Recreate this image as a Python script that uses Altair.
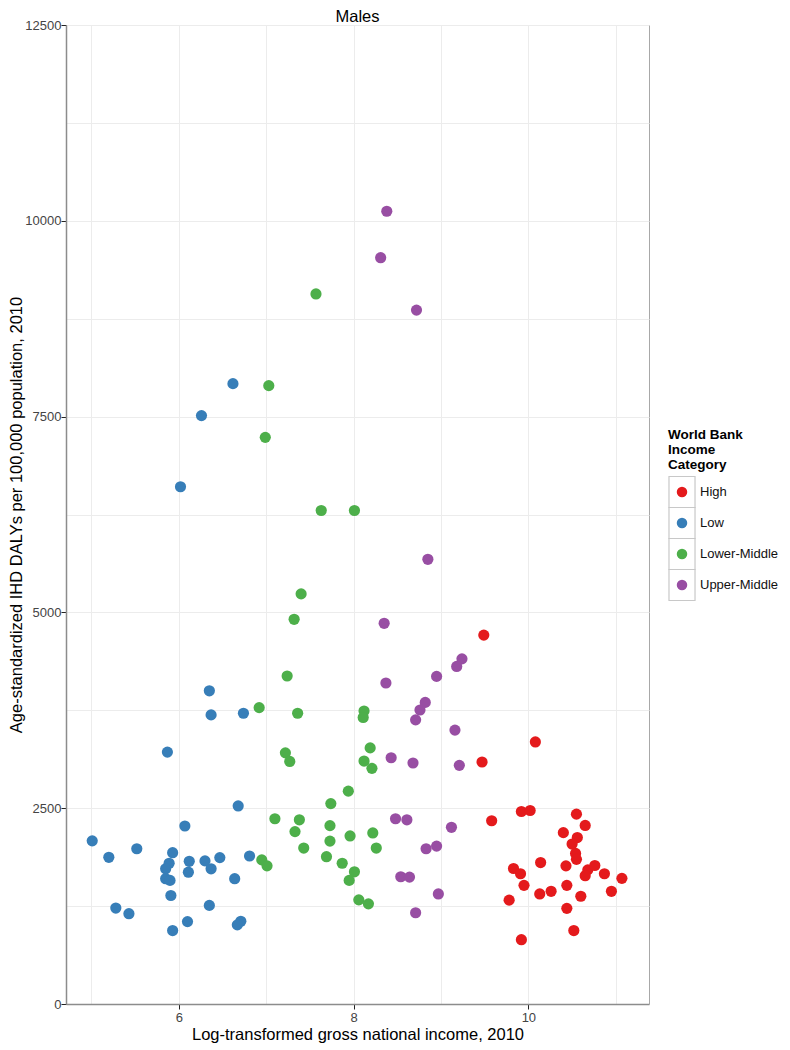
import altair as alt
import pandas as pd

categories = ["High", "Low", "Lower-Middle", "Upper-Middle"]
colors = ["#E41A1C", "#377EB8", "#4DAF4A", "#984EA3"]

low_x = [6.07, 5.01, 5.20, 5.52, 5.93, 5.89, 5.85, 6.12, 6.11, 6.30, 6.37, 6.47, 6.81, 5.85, 5.90, 5.91,
         6.64, 5.28, 5.43, 6.35, 6.10, 5.93, 6.71, 6.67, 6.35, 6.37, 6.74, 5.87, 6.68, 6.62, 6.26, 6.02]
low_y = [2273, 2083, 1873, 1982, 1932, 1797, 1726, 1822, 1683, 1827, 1726, 1869, 1890, 1600, 1578, 1385,
         1600, 1225, 1153, 1259, 1052, 938, 1057, 1010, 3999, 3691, 3712, 3216, 2529, 7921, 7513, 6604]

lm_x = [7.10, 7.38, 7.33, 7.43, 6.95, 7.01, 7.73, 7.73, 7.69, 7.96, 8.22, 8.26, 7.87, 8.01, 7.95, 8.06,
        8.17, 8.12, 8.11, 8.19, 8.12, 8.21, 7.32, 7.24, 6.92, 7.36, 7.22, 7.27, 7.94, 7.74, 7.57, 7.03,
        6.99, 7.63, 8.01, 7.40]
lm_y = [2365, 2352, 2201, 1991, 1840, 1764, 2277, 2080, 1881, 2146, 2184, 1991, 1797, 1688, 1578, 1330,
        1279, 3741, 3658, 3270, 3102, 3009, 4912, 4188, 3784, 3712, 3207, 3097, 2718, 2559, 9066, 7895,
        7235, 6301, 6301, 5236]

um_x = [8.48, 8.61, 9.12, 8.83, 8.95, 8.54, 8.64, 8.97, 8.71, 8.35, 9.24, 9.18, 8.95, 8.37, 8.82, 8.76,
        8.71, 9.16, 8.43, 8.68, 9.21, 8.38, 8.31, 8.72, 8.85]
um_y = [2365, 2352, 2256, 1982, 2016, 1625, 1620, 1405, 1165, 4861, 4407, 4310, 4183, 4099, 3851, 3754,
        3628, 3497, 3144, 3077, 3047, 10122, 9529, 8860, 5678]

high_x = [9.58, 10.65, 10.40, 10.56, 10.50, 10.54, 10.55, 10.43, 10.14, 9.83, 9.91, 9.95, 9.78, 10.13,
          10.26, 10.44, 10.60, 10.44, 10.52, 9.92, 10.68, 10.76, 10.65, 10.87, 11.07, 10.95, 9.49, 10.08,
          9.47, 9.92, 10.02, 10.55]
high_y = [2340, 2280, 2188, 2125, 2042, 1923, 1847, 1764, 1806, 1730, 1663, 1515, 1326, 1405,
          1439, 1515, 1376, 1221, 938, 821, 1713, 1768, 1638, 1663, 1604, 1439, 4710, 3346,
          3090, 2458, 2471, 2424]

x_ticks = [5, 6, 7, 8, 9, 10, 11]
y_ticks = [0, 1250, 2500, 3750, 5000, 6250, 7500, 8750, 10000, 11250, 12500]

rows = []
for cat, xs, ys in [("High", high_x, high_y), ("Low", low_x, low_y),
                    ("Lower-Middle", lm_x, lm_y), ("Upper-Middle", um_x, um_y)]:
    for a, b in zip(xs, ys):
        rows.append({"gni": a, "daly": b, "cat": cat})
df = pd.DataFrame(rows)

leg = pd.DataFrame({"cat": categories, "row": list(range(len(categories)))})
leg_title = pd.DataFrame({"t": ["World Bank\nIncome\nCategory"]})

FONT = "Liberation Sans"
TOP = 24
LEFT = 67
W, H = 583, 1003 - TOP

color = alt.Color("cat:N", scale=alt.Scale(domain=categories, range=colors), legend=None)

points = alt.Chart(df).mark_circle(size=125, opacity=1).encode(
    x=alt.X("gni:Q", scale=alt.Scale(domain=[4.71, 11.38], nice=False, zero=False),
            axis=alt.Axis(values=x_ticks,
                          labelExpr="datum.value % 2 == 0 ? datum.label : ''",
                          tickColor={"condition": {"test": "datum.value % 2 == 0", "value": "#222"},
                                     "value": "rgba(0,0,0,0)"},
                          title="Log-transformed gross national income, 2010",
                          titleFontSize=16.5, titlePadding=2, labelPadding=2)),
    y=alt.Y("daly:Q", scale=alt.Scale(domain=[0, 12500], nice=False),
            axis=alt.Axis(values=y_ticks, format="d",
                          labelExpr="datum.value % 2500 == 0 ? datum.label : ''",
                          tickColor={"condition": {"test": "datum.value % 2500 == 0", "value": "#222"},
                                     "value": "rgba(0,0,0,0)"},
                          title="Age-standardized IHD DALYs per 100,000 population, 2010",
                          titleFontSize=16.5, titlePadding=0, labelPadding=0)),
    color=color,
)

yleg = alt.Y("row:Q", scale=alt.Scale(domain=[0, 3], range=[491 - TOP, 584 - TOP]), axis=None)

boxes = alt.Chart(leg).mark_point(
    shape="M-0.84,-1H0.84V1H-0.84Z", size=961, filled=False, color="#c8c8c8", strokeWidth=1.2,
    opacity=1
).encode(x=alt.value(683 - LEFT), y=yleg)

dots = alt.Chart(leg).mark_circle(size=110, opacity=1).encode(
    x=alt.value(683 - LEFT), y=yleg, color=color)

labels = alt.Chart(leg).mark_text(align="left", baseline="middle", fontSize=13, font=FONT,
                                  color="#111").encode(
    x=alt.value(701 - LEFT), y=yleg, text="cat:N")

ltitle = alt.Chart(leg_title).mark_text(align="left", baseline="top", fontSize=13.5, font=FONT,
                                        fontWeight="bold", lineBreak="\n", lineHeight=15,
                                        color="#000").encode(
    x=alt.value(669 - LEFT), y=alt.value(427 - TOP), text="t:N")

chart = alt.layer(points, boxes, dots, labels, ltitle).resolve_scale(y="independent").properties(
    width=W, height=H, padding=0,
    title=alt.TitleParams("Males", fontSize=16.5, fontWeight="normal", font=FONT, color="#000",
                          anchor="middle", offset=-6),
).configure_view(stroke="#a8a8a8", strokeWidth=1).configure_axis(
    labelFont=FONT, titleFont=FONT, labelFontSize=13, labelColor="#444",
    titleColor="#000", titleFontWeight="normal", gridColor="#ececec", gridWidth=1,
    domainColor="#8c8c8c", domainWidth=1.5, tickSize=5,
)

chart.save("out.html", embed_options={"renderer": "svg", "actions": False})
